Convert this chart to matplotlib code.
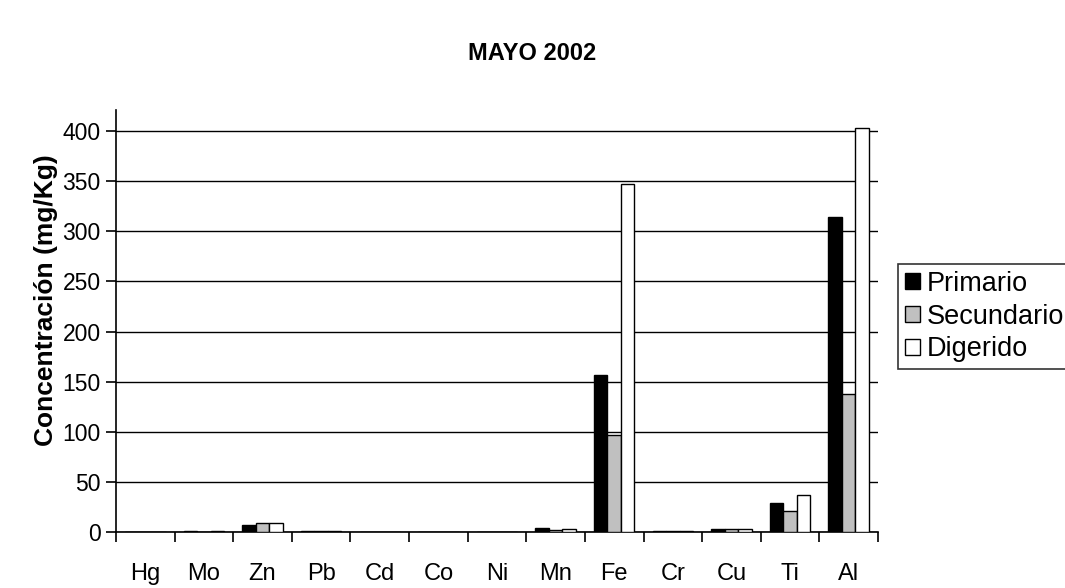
import matplotlib
matplotlib.use("Agg")
import matplotlib.pyplot as plt
import numpy as np

plt.rcParams['font.family'] = ['Liberation Sans', 'DejaVu Sans']

categories = ["Hg", "Mo", "Zn", "Pb", "Cd", "Co", "Ni", "Mn", "Fe", "Cr", "Cu", "Ti", "Al"]
primario = [0, 1, 7, 1, 0, 0, 0, 3.5, 157, 1, 3, 29, 314]
secundario = [0, 0, 9, 1, 0, 0, 0, 1.5, 97, 1, 2.5, 21, 138]
digerido = [0, 1, 9, 1, 0, 0, 0, 3, 347, 1, 3, 37, 403]
yticks = [0, 50, 100, 150, 200, 250, 300, 350, 400]

fig = plt.figure(figsize=(10.65, 5.88), dpi=100)
ax = fig.add_axes([116/1065, 1-532/588, (878-116)/1065, (532-110)/588])

x = np.arange(len(categories))
w = 0.23
ax.bar(x - w, primario, w, color="black", edgecolor="black", linewidth=1, label="Primario", zorder=3)
ax.bar(x, secundario, w, color="#c0c0c0", edgecolor="black", linewidth=1, label="Secundario", zorder=3)
ax.bar(x + w, digerido, w, color="white", edgecolor="black", linewidth=1, label="Digerido", zorder=3)

ax.set_xlim(-0.5, len(categories) - 0.5)
ax.set_ylim(0, 421)
ax.set_yticks(yticks)
ax.set_yticklabels([str(v) for v in yticks], fontsize=16.5)
ax.yaxis.grid(True, color="black", linewidth=1, zorder=0)
ax.set_axisbelow(True)
ax.spines['top'].set_visible(False)
ax.spines['right'].set_visible(False)
for s in ['left', 'bottom']:
    ax.spines[s].set_linewidth(1.2)

ax.set_xticks(x)
ax.set_xticklabels(categories, fontsize=17)
ax.tick_params(axis='x', which='major', length=0, pad=22)
ax.set_xticks(np.arange(-0.5, len(categories) + 0.5, 1), minor=True)
ax.tick_params(axis='x', which='minor', length=7, width=1.2, direction='out')
ax.tick_params(axis='y', length=7, width=1.2, direction='out', pad=4)

fig.text(46/1065, 1-300/588, "Concentración (mg/Kg)", rotation=90, ha='center', va='center',
         fontsize=19, fontweight='bold')
fig.text(532/1065, 1-53/588, "MAYO 2002", ha='center', va='center', fontsize=17, fontweight='bold')

leg = ax.legend(loc='upper left', bbox_to_anchor=(898/1065, 1-264/588), bbox_transform=fig.transFigure,
                fontsize=19.5, frameon=True, fancybox=False, edgecolor='black', handlelength=0.55,
                handleheight=0.55, handletextpad=0.25, borderpad=0.25, labelspacing=0.25, borderaxespad=0)
leg.get_frame().set_linewidth(1.2)

fig.savefig("out.png", dpi=100)
